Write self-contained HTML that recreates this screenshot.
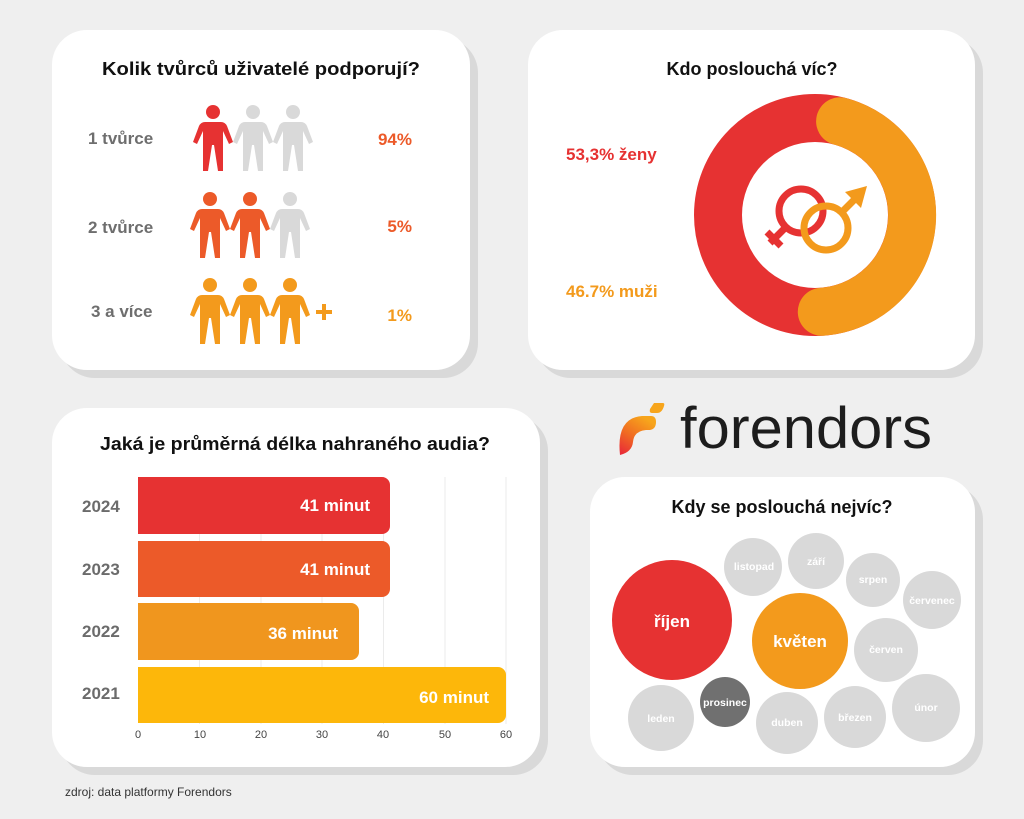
<!DOCTYPE html>
<html><head><meta charset="utf-8"><style>
html,body{margin:0;padding:0;background:#efefef;}
svg{display:block;font-family:"Liberation Sans",sans-serif;}
.b{font-weight:bold;}
</style></head><body>
<svg width="1024" height="819" viewBox="0 0 1024 819" xmlns="http://www.w3.org/2000/svg">
<defs>
<symbol id="p" viewBox="0 0 40 67">
<circle cx="20" cy="7" r="7"/>
<path d="M12,17 H28 Q32,17 34,21 L40,37 L36,39 L30,26 V66 H25 L21,40 H19 L15,66 H10 V26 L4,39 L0,37 L6,21 Q8,17 12,17 Z"/>
</symbol>
<linearGradient id="lg" x1="0" y1="1" x2="0.6" y2="0">
<stop offset="0" stop-color="#e8243a"/><stop offset="0.5" stop-color="#f06a22"/><stop offset="1" stop-color="#f7a51c"/>
</linearGradient>
</defs>
<rect width="1024" height="819" fill="#efefef"/>
<g fill="#d9d9d9">
<rect x="60" y="38" width="418" height="340" rx="35"/>
<rect x="536" y="38" width="447" height="340" rx="35"/>
<rect x="60" y="416" width="488" height="359" rx="35"/>
<rect x="598" y="485" width="385" height="290" rx="35"/>
</g>
<g fill="#fff">
<rect x="52" y="30" width="418" height="340" rx="35"/>
<rect x="528" y="30" width="447" height="340" rx="35"/>
<rect x="52" y="408" width="488" height="359" rx="35"/>
<rect x="590" y="477" width="385" height="290" rx="35"/>
</g>

<text x="261" y="75" text-anchor="middle" class="b" font-size="18" fill="#111" textLength="318" lengthAdjust="spacingAndGlyphs">Kolik tvůrců uživatelé podporují?</text>
<g class="b" font-size="17" fill="#6e6e6e">
<text x="88" y="144">1 tvůrce</text>
<text x="88" y="233">2 tvůrce</text>
<text x="91" y="317">3 a více</text>
</g>
<use href="#p" x="193" y="105" width="40" height="67" fill="#e63232"/>
<use href="#p" x="233" y="105" width="40" height="67" fill="#d9d9d9"/>
<use href="#p" x="273" y="105" width="40" height="67" fill="#d9d9d9"/>
<use href="#p" x="190" y="192" width="40" height="67" fill="#ec5a29"/>
<use href="#p" x="230" y="192" width="40" height="67" fill="#ec5a29"/>
<use href="#p" x="270" y="192" width="40" height="67" fill="#d9d9d9"/>
<use href="#p" x="190" y="278" width="40" height="67" fill="#f39a1c"/>
<use href="#p" x="230" y="278" width="40" height="67" fill="#f39a1c"/>
<use href="#p" x="270" y="278" width="40" height="67" fill="#f39a1c"/>
<path d="M316,312 H332 M324,304 V320" stroke="#f39a1c" stroke-width="4"/>
<g class="b" font-size="17" text-anchor="end">
<text x="412" y="145" fill="#ec5a29">94%</text>
<text x="412" y="232" fill="#ec5a29">5%</text>
<text x="412" y="321" fill="#f39a1c">1%</text>
</g>

<text x="752" y="75" text-anchor="middle" class="b" font-size="18" fill="#111">Kdo poslouchá víc?</text>
<text x="566" y="160" class="b" font-size="17" fill="#e63232">53,3% ženy</text>
<text x="566" y="297" class="b" font-size="17" fill="#f39a1c">46.7% muži</text>
<circle cx="815" cy="215" r="97" fill="none" stroke="#e63232" stroke-width="48"/>
<path d="M840.1,121.3 A97,97 0 0 1 821.8,311.8" fill="none" stroke="#f39a1c" stroke-width="48" stroke-linecap="round"/>
<circle cx="801" cy="211" r="22" fill="none" stroke="#e63232" stroke-width="7"/>
<path d="M786,227 L770,243 M767,232 L781,246" stroke="#e63232" stroke-width="7"/>
<circle cx="826" cy="228" r="22" fill="none" stroke="#f39a1c" stroke-width="7"/>
<path d="M841,213 L858,196" stroke="#f39a1c" stroke-width="7"/>
<path d="M867,186 L845,192 L861,208 Z" fill="#f39a1c"/>

<text x="295" y="450" text-anchor="middle" class="b" font-size="18" fill="#111" textLength="390" lengthAdjust="spacingAndGlyphs">Jaká je průměrná délka nahraného audia?</text>
<g stroke="#ebebeb" stroke-width="1">
<line x1="199.5" y1="477" x2="199.5" y2="724"/><line x1="261" y1="477" x2="261" y2="724"/>
<line x1="322" y1="477" x2="322" y2="724"/><line x1="383.5" y1="477" x2="383.5" y2="724"/>
<line x1="445" y1="477" x2="445" y2="724"/><line x1="506" y1="477" x2="506" y2="724"/>
</g>
<path d="M138,477 H382 a8,8 0 0 1 8,8 V526 a8,8 0 0 1 -8,8 H138 Z" fill="#e63232"/>
<path d="M138,541 H382 a8,8 0 0 1 8,8 V589 a8,8 0 0 1 -8,8 H138 Z" fill="#ec5a29"/>
<path d="M138,603 H351 a8,8 0 0 1 8,8 V652 a8,8 0 0 1 -8,8 H138 Z" fill="#f0961e"/>
<path d="M138,667 H498 a8,8 0 0 1 8,8 V715 a8,8 0 0 1 -8,8 H138 Z" fill="#fdb70a"/>
<g class="b" font-size="17" fill="#fff" text-anchor="end">
<text x="370" y="511">41 minut</text>
<text x="370" y="575">41 minut</text>
<text x="338" y="639">36 minut</text>
<text x="489" y="703">60 minut</text>
</g>
<g class="b" font-size="17" fill="#6b6b6b">
<text x="82" y="512">2024</text><text x="82" y="575">2023</text>
<text x="82" y="637">2022</text><text x="82" y="699">2021</text>
</g>
<g font-size="11" fill="#444" text-anchor="middle">
<text x="138" y="738">0</text><text x="200" y="738">10</text><text x="261" y="738">20</text>
<text x="322" y="738">30</text><text x="383" y="738">40</text><text x="445" y="738">50</text><text x="506" y="738">60</text>
</g>
<text x="65" y="796" font-size="12" fill="#333">zdroj: data platformy Forendors</text>

<path d="M620,455 Q616,418 642,416 H651 Q656,416 656,422 Q656,429 650,430 H646 Q634,431 633,442 Q632,452 620,455 Z" fill="url(#lg)"/>
<path d="M654,403 H663 Q665,403 664,406 Q662,413 657,413 H652 Q649,413 650,409 Z" fill="#f7a51c"/>
<text x="680" y="448" font-size="58" fill="#1d1d1d" textLength="252" lengthAdjust="spacingAndGlyphs">forendors</text>

<text x="782" y="513" text-anchor="middle" class="b" font-size="18" fill="#111">Kdy se poslouchá nejvíc?</text>
<g fill="#d9d9d9">
<circle cx="753" cy="567" r="29"/><circle cx="816" cy="561" r="28"/>
<circle cx="873" cy="580" r="27"/><circle cx="932" cy="600" r="29"/>
<circle cx="886" cy="650" r="32"/><circle cx="926" cy="708" r="34"/>
<circle cx="855" cy="717" r="31"/><circle cx="787" cy="723" r="31"/>
<circle cx="661" cy="718" r="33"/>
</g>
<circle cx="725" cy="702" r="25" fill="#707070"/>
<circle cx="672" cy="620" r="60" fill="#e63232"/>
<circle cx="800" cy="641" r="48" fill="#f39a1c"/>
<g class="b" fill="#fff" text-anchor="middle">
<text x="672" y="627" font-size="17">říjen</text>
<text x="800" y="647" font-size="17">květen</text>
<g font-size="10.5">
<text x="754" y="570">listopad</text><text x="816" y="565">září</text>
<text x="873" y="583">srpen</text><text x="932" y="604">červenec</text>
<text x="886" y="653">červen</text><text x="926" y="711">únor</text>
<text x="855" y="721">březen</text><text x="787" y="726">duben</text>
<text x="661" y="722">leden</text><text x="725" y="706">prosinec</text>
</g></g>
</svg>
</body></html>
